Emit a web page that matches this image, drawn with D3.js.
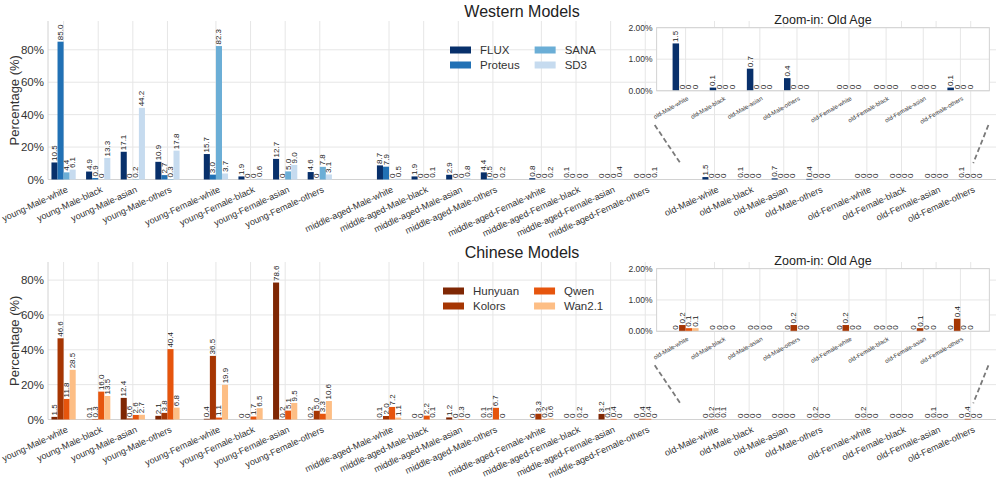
<!DOCTYPE html>
<html>
<head>
<meta charset="utf-8">
<script src="https://cdn.jsdelivr.net/npm/d3@7"></script>
<style>
  body { margin: 0; background: #fff; }
  svg { font-family: "Liberation Sans", Arial, sans-serif; }
</style>
</head>
<body>
<svg id="chart" width="996" height="482"></svg>
<script>
// categories (age-gender-race), 24 in total, the last 8 are "old"
const categories = [
  "young-Male-white", "young-Male-black", "young-Male-asian", "young-Male-others",
  "young-Female-white", "young-Female-black", "young-Female-asian", "young-Female-others",
  "middle-aged-Male-white", "middle-aged-Male-black", "middle-aged-Male-asian", "middle-aged-Male-others",
  "middle-aged-Female-white", "middle-aged-Female-black", "middle-aged-Female-asian", "middle-aged-Female-others",
  "old-Male-white", "old-Male-black", "old-Male-asian", "old-Male-others",
  "old-Female-white", "old-Female-black", "old-Female-asian", "old-Female-others"
];

// Western models
const westernModels = ["FLUX", "Proteus", "SANA", "SD3"];
const westernColors = ["#08306b", "#2171b5", "#6baed6", "#c6dbef"];
const fluxValues    = [10.5, 4.9, 17.1, 10.9, 15.7, 1.9, 12.7, 4.6, 8.7, 1.9, 2.9, 4.4, 0.8, 0.1, 0, 0, 1.5, 0.1, 0.7, 0.4, 0, 0, 0, 0.1];
const proteusValues = [85.0, 0.9, 0, 2.7, 3.0, 0, 0, 0, 7.9, 0, 0, 0.5, 0, 0, 0, 0, 0, 0, 0, 0, 0, 0, 0, 0];
const sanaValues    = [4.4, 0, 0.2, 0.3, 82.3, 0, 5.0, 7.8, 0, 0, 0, 0, 0, 0, 0, 0, 0, 0, 0, 0, 0, 0, 0, 0];
const sd3Values     = [6.1, 13.3, 44.2, 17.8, 3.7, 0.6, 9.0, 3.1, 0.5, 0.1, 0.8, 0.2, 0.2, 0, 0.4, 0.1, 0, 0, 0, 0, 0, 0, 0, 0];

// Chinese models
const chineseModels = ["Hunyuan", "Kolors", "Qwen", "Wan2.1"];
const chineseColors = ["#7f2704", "#a63603", "#e6550d", "#fdbe85"];
const hunyuanValues = [1.5, 0.1, 12.4, 2.1, 0.4, 0, 78.6, 0.2, 0.1, 0, 1.2, 0.1, 0, 0, 3.2, 0, 0, 0, 0, 0, 0, 0, 0, 0];
const kolorsValues  = [46.6, 0.3, 0.6, 3.8, 36.5, 0, 0.2, 5.0, 2.0, 0, 0, 0.1, 3.3, 0, 0.1, 0.4, 0.2, 0, 0, 0.2, 0.2, 0, 0.1, 0.4];
const qwenValues    = [11.8, 16.0, 2.6, 40.4, 1.1, 1.7, 5.1, 3.3, 7.2, 2.2, 0.3, 6.7, 0.2, 0.2, 0.4, 0.4, 0.1, 0, 0, 0, 0, 0, 0, 0];
const wanValues     = [28.5, 13.5, 2.7, 6.8, 19.9, 6.5, 9.5, 10.6, 1.1, 0.1, 0, 0, 0.6, 0, 0, 0, 0.1, 0, 0, 0, 0, 0, 0, 0];

const yTicks = [0, 20, 40, 60, 80];
const insetTicks = [0, 1, 2];

// layout
const W = 996;
const GRID = "#e6e6e6";
const SPINE = "#d2d2d2";
const BAR_GROUP = 0.7;

const panels = [
  { title: "Western Models", models: westernModels, colors: westernColors,
    series: [fluxValues, proteusValues, sanaValues, sd3Values],
    top: 21, bottom: 179.5, legendX: 450, legendY: 50 },
  { title: "Chinese Models", models: chineseModels, colors: chineseColors,
    series: [hunyuanValues, kolorsValues, qwenValues, wanValues],
    top: 262, bottom: 419.5, legendX: 443, legendY: 291 }
];

const svg = d3.select("#chart");

// slot position with gaps between gender groups and age groups
const slot = i => i + 0.4 * Math.floor(i / 4) + 0.6 * Math.floor(i / 8);
const insetSlot = i => i + 0.4 * Math.floor(i / 4);
const fmt = v => v === 0 ? "0" : v.toFixed(1);

function drawBars(g, x, y, series, colors, idxList, posFn, fontSize) {
  const bw = BAR_GROUP / series.length;
  series.forEach((vals, k) => {
    const pts = idxList.map((ci, j) => ({ p: posFn(j, ci), v: vals[ci] }));
    const off = (k - (series.length - 1) / 2) * bw;
    g.append("g").selectAll("rect").data(pts).join("rect")
      .attr("x", d => x(d.p + off - bw / 2))
      .attr("width", x(bw) - x(0))
      .attr("y", d => y(d.v))
      .attr("height", d => y(0) - y(d.v))
      .attr("fill", colors[k]);
    g.append("g").selectAll("text").data(pts).join("text")
      .attr("transform", d => `translate(${x(d.p + off)},${y(d.v) - 1.5}) rotate(-90)`)
      .attr("dominant-baseline", "central")
      .attr("font-size", fontSize)
      .attr("fill", "#222")
      .text(d => fmt(d.v));
  });
}

panels.forEach(P => {
  const g = svg.append("g");
  const left = 48;
  const x = d3.scaleLinear().domain([-0.45, slot(23) + 0.73]).range([left, W]);
  const maxV = d3.max(P.series.flat());
  const y = d3.scaleLinear().domain([0, maxV * 1.15]).range([P.bottom, P.top]);

  // grid
  g.append("g").selectAll("line").data(yTicks).join("line")
    .attr("x1", left).attr("x2", W)
    .attr("y1", d => y(d)).attr("y2", d => y(d))
    .attr("stroke", GRID);
  g.append("g").selectAll("line").data(categories).join("line")
    .attr("x1", (d, i) => x(slot(i))).attr("x2", (d, i) => x(slot(i)))
    .attr("y1", P.top).attr("y2", P.bottom)
    .attr("stroke", GRID);
  g.append("line").attr("x1", left).attr("x2", left).attr("y1", P.top).attr("y2", P.bottom).attr("stroke", SPINE);
  g.append("line").attr("x1", left).attr("x2", W).attr("y1", P.bottom).attr("y2", P.bottom).attr("stroke", SPINE);

  // y ticks
  g.append("g").selectAll("text").data(yTicks).join("text")
    .attr("x", left - 4).attr("y", d => y(d))
    .attr("text-anchor", "end").attr("dominant-baseline", "central")
    .attr("font-size", 11.5).attr("fill", "#333")
    .text(d => d + "%");
  g.append("text")
    .attr("transform", `translate(14,${(P.top + P.bottom) / 2}) rotate(-90)`)
    .attr("text-anchor", "middle").attr("dominant-baseline", "central")
    .attr("font-size", 13).attr("fill", "#333")
    .text("Percentage (%)");

  // x ticks
  g.append("g").selectAll("text").data(categories).join("text")
    .attr("transform", (d, i) => `translate(${x(slot(i)) + 2},${P.bottom + 6}) rotate(-25)`)
    .attr("text-anchor", "end").attr("dy", "0.75em")
    .attr("font-size", 9).attr("fill", "#333")
    .text(d => d);

  drawBars(g, x, y, P.series, P.colors, d3.range(24), (j, ci) => slot(ci), 8);

  // title
  g.append("text").attr("x", (left + W) / 2).attr("y", P.top - 4)
    .attr("text-anchor", "middle").attr("font-size", 16).attr("fill", "#222")
    .text(P.title);

  // legend (2 columns)
  const leg = g.append("g").attr("transform", `translate(${P.legendX},${P.legendY})`);
  const col1 = leg.append("g");
  const col2 = leg.append("g");
  P.models.forEach((m, k) => {
    const col = k < 2 ? col1 : col2;
    const row = k % 2;
    col.append("rect").attr("x", 0).attr("y", row * 15 - 3.5).attr("width", 21).attr("height", 7).attr("fill", P.colors[k]);
    col.append("text").attr("x", 30).attr("y", row * 15).attr("dominant-baseline", "central")
      .attr("font-size", 11.5).attr("fill", "#333").text(m);
  });
  const w1 = d3.max(col1.selectAll("text").nodes(), n => n.getComputedTextLength());
  col2.attr("transform", `translate(${30 + w1 + 15},0)`);

  // zoom-in inset (axes fraction placement)
  const fx = f => left + f * (W - left);
  const fy = f => P.bottom - f * (P.bottom - P.top);
  const ix0 = fx(0.642), ix1 = fx(0.993), iy0 = fy(0.958), iy1 = fy(0.56);

  // dashed connectors
  const conn = [[[0.640, 0.344], [0.667, 0.103]], [[0.992, 0.344], [0.976, 0.103]]];
  g.append("g").selectAll("line").data(conn).join("line")
    .attr("x1", d => fx(d[0][0])).attr("y1", d => fy(d[0][1]))
    .attr("x2", d => fx(d[1][0])).attr("y2", d => fy(d[1][1]))
    .attr("stroke", "#7a7a7a").attr("stroke-width", 1.8).attr("stroke-dasharray", "5,3");

  const ig = g.append("g");
  const oldIdx = d3.range(16, 24);
  const ixs = d3.scaleLinear().domain([-0.78, insetSlot(7) + 0.78]).range([ix0, ix1]);
  const iys = d3.scaleLinear().domain([0, 2]).range([iy1, iy0]);
  ig.append("rect").attr("x", ix0).attr("y", iy0).attr("width", ix1 - ix0).attr("height", iy1 - iy0).attr("fill", "#fff");
  ig.append("g").selectAll("line").data(insetTicks).join("line")
    .attr("x1", ix0).attr("x2", ix1).attr("y1", d => iys(d)).attr("y2", d => iys(d)).attr("stroke", GRID);
  ig.append("g").selectAll("line").data(oldIdx).join("line")
    .attr("x1", (d, j) => ixs(insetSlot(j))).attr("x2", (d, j) => ixs(insetSlot(j)))
    .attr("y1", iy0).attr("y2", iy1).attr("stroke", GRID);
  drawBars(ig, ixs, iys, P.series, P.colors, oldIdx, (j) => insetSlot(j), 8);
  ig.append("rect").attr("x", ix0).attr("y", iy0).attr("width", ix1 - ix0).attr("height", iy1 - iy0)
    .attr("fill", "none").attr("stroke", SPINE);
  ig.append("g").selectAll("text").data(insetTicks).join("text")
    .attr("x", ix0 - 4).attr("y", d => iys(d))
    .attr("text-anchor", "end").attr("dominant-baseline", "central")
    .attr("font-size", 8.5).attr("fill", "#333")
    .text(d => d.toFixed(2) + "%");
  ig.append("g").selectAll("text").data(oldIdx).join("text")
    .attr("transform", (d, j) => `translate(${ixs(insetSlot(j)) + 1},${iy1 + 5}) rotate(-30)`)
    .attr("text-anchor", "end").attr("dy", "0.75em")
    .attr("font-size", 6).attr("fill", "#333")
    .text(d => categories[d]);
  ig.append("text").attr("x", (ix0 + ix1) / 2).attr("y", iy0 - 4)
    .attr("text-anchor", "middle").attr("font-size", 12.5).attr("fill", "#222")
    .text("Zoom-in: Old Age");
});
</script>
</body>
</html>
